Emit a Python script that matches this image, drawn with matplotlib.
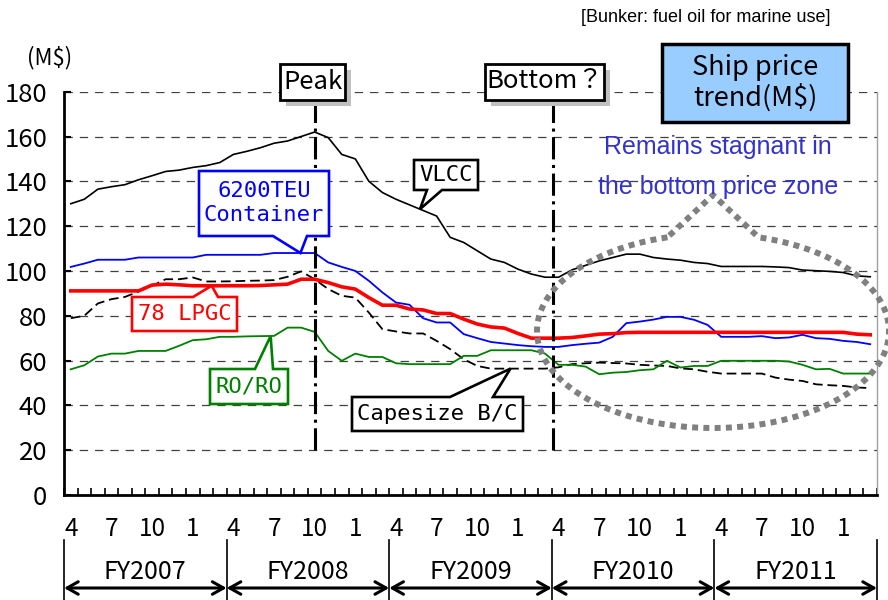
import numpy as np
import matplotlib
matplotlib.use("Agg")
import matplotlib.pyplot as plt
from matplotlib.patches import Polygon, Rectangle
from matplotlib.lines import Line2D
from matplotlib.transforms import blended_transform_factory

plt.rcParams['lines.scale_dashes'] = False

NARROW = ['Liberation Sans Narrow', 'Noto Sans CJK JP', 'DejaVu Sans']
SANS = ['Liberation Sans', 'DejaVu Sans']
MONO = ['DejaVu Sans Mono']

# ---------------- data (monthly, Apr 2007 .. Mar 2012) ----------------
vlcc = [130, 132, 136.5, 137.6, 138.5, 140.7, 142.5, 144.4, 145, 146.2, 147, 148.4,
        152, 153.4, 155, 157, 158, 160, 162, 159.5, 152, 150, 140, 135,
        132, 129.5, 127, 124.5, 115, 112.7, 109, 105.3, 103.8, 100.8, 98.6, 97.2,
        97.2, 100.5, 102.5, 104.5, 106, 107.5, 107.5, 106, 105.3, 104.8, 103.8, 103.3,
        102, 102, 102, 102, 101.8, 101.5, 100.4, 100.1, 99.8, 99.3, 97.8, 97.4]
container = [101.8, 103.3, 105, 105, 105, 106, 106, 106, 106, 106, 107.2, 107.2,
             107.2, 107.2, 107.2, 108, 108, 108, 108, 103.8, 101.8, 100, 95.6, 90.4,
             85.9, 84.9, 78.9, 77, 77, 71.8, 70, 68.3, 67.6, 66.9, 66.4, 66.1,
             66.1, 66.9, 67.5, 68, 70.6, 76.7, 77.4, 78.3, 79.5, 79.5, 78.2, 75.9,
             70.6, 70.6, 70.6, 70.9, 70, 70.3, 71.5, 70, 69.7, 68.8, 68.3, 67.3]
lpgc = [91.1, 91.1, 91.1, 91.1, 91.1, 91.1, 93.7, 94.1, 93.8, 93.4, 93.4, 93.4,
        93.4, 93.4, 93.5, 93.8, 94.1, 96.3, 96.3, 94.8, 92.9, 91.9, 88.1, 84.7,
        84.7, 83, 82.6, 81, 81, 78.5, 76.3, 75, 74.5, 72.1, 70, 70,
        70, 70.3, 71, 71.8, 72, 72.5, 72.6, 72.6, 72.6, 72.6, 72.6, 72.6,
        72.6, 72.6, 72.6, 72.6, 72.6, 72.6, 72.6, 72.6, 72.6, 72.6, 71.8, 71.5]
capesize = [78.9, 80, 85.5, 87.4, 88.4, 90.8, 93.4, 96.3, 96.3, 97.1, 95.3, 95.3,
            95.4, 95.6, 95.7, 95.9, 97.4, 99.8, 96.3, 91.9, 88.9, 88.1, 81.4, 74,
            73, 72.1, 72.1, 68.8, 65.1, 60.6, 57.6, 56.4, 56.4, 56.4, 56.4, 56.4,
            57, 58.4, 58.8, 59.1, 58.9, 58.7, 58.1, 57.8, 57.6, 56.5, 56.1, 55,
            54.2, 54.2, 54.2, 54.2, 52.4, 51.5, 50.9, 49.4, 49, 48.7, 48, 47.7]
roro = [56.1, 57.9, 61.8, 63.1, 63.1, 64.3, 64.3, 64.3, 66.6, 69.1, 69.5, 70.6,
        70.6, 70.8, 70.9, 71, 74.7, 74.7, 72.8, 64.3, 59.9, 63.1, 61.6, 61.6,
        58.8, 58.4, 58.4, 58.4, 58.4, 62.1, 62.1, 64.6, 64.6, 64.6, 64.6, 63.1,
        58.1, 58.1, 57.3, 53.9, 54.6, 54.9, 55.7, 56.1, 59.9, 56.9, 57.6, 57.6,
        59.9, 59.9, 59.9, 59.9, 59.9, 59.6, 58.1, 56.1, 56.3, 54.2, 54.2, 54.2]

month_labels = ['4', '7', '10', '1']
fiscal_years = ['FY2007', 'FY2008', 'FY2009', 'FY2010', 'FY2011']
yticks = [0, 20, 40, 60, 80, 100, 120, 140, 160, 180]
peak_idx = 18
bottom_idx = 35.6

# ---------------- figure ----------------
W, H = 888, 600
fig = plt.figure(figsize=(W / 100, H / 100), dpi=100)
fig.patch.set_facecolor('white')
ax = fig.add_axes([64 / W, 1 - 495 / H, (877 - 64) / W, (495 - 91.7) / H])

n = len(vlcc)
xs = np.arange(n)

ax.plot(xs, vlcc, color='black', lw=1.2, zorder=3)
ax.plot(xs, container, color='#0000FF', lw=1.3, zorder=3)
ax.plot(xs, capesize, color='black', lw=1.3, dashes=(7, 3.5), zorder=3)
ax.plot(xs, roro, color='#008000', lw=1.3, zorder=3)
ax.plot(xs, lpgc, color='#FF0000', lw=2.6, zorder=4)

ax.set_xlim(-0.5, n - 0.5)
ax.set_ylim(0, 180)

# y axis
ax.set_yticks(yticks)
ax.set_yticklabels([str(v) for v in yticks], family=NARROW, fontsize=18.5)
ax.tick_params(axis='y', direction='in', length=5, width=1.5, pad=12)
for v in yticks[1:]:
    ax.axhline(v, color='#404040', lw=0.9, dashes=(6, 5), zorder=1)

# x axis
major = [i for i in range(n) if i % 3 == 0]
ax.set_xticks(major)
ax.set_xticklabels([month_labels[(i // 3) % 4] for i in major], family=NARROW, fontsize=17.5)
ax.set_xticks(np.arange(-0.5, n, 1), minor=True)
ax.tick_params(axis='x', which='major', length=0, pad=15)
ax.tick_params(axis='x', which='minor', direction='in', length=5, width=1.2)

for s in ['left', 'bottom']:
    ax.spines[s].set_linewidth(2)
    ax.spines[s].set_color('black')
ax.spines['top'].set_visible(False)
ax.spines['right'].set_color('#A0A0A0')
ax.spines['right'].set_linewidth(1)

# peak / bottom lines
for xv in (peak_idx, bottom_idx):
    ax.plot([xv, xv], [20, 176], color='black', lw=2.2, dashes=(16, 4, 2.2, 4),
            zorder=5, solid_capstyle='butt', dash_capstyle='butt')

# ---------------- helpers ----------------
def ff(px, py):
    return (px / W, 1 - py / H)


def data_px(idx, series):
    y = np.interp(idx, xs, series)
    d = ax.transData.transform((idx, y))
    return (d[0], H - d[1])


def callout(box, base, tip, edge, color, text, lw=1.9, size=16, ls=1.2):
    x0, y0, x1, y1 = box
    if edge == 'bottom':
        verts = [(x0, y0), (x1, y0), (x1, y1), (base[1], y1), tip, (base[0], y1), (x0, y1)]
    else:
        verts = [(x0, y0), (base[0], y0), tip, (base[1], y0), (x1, y0), (x1, y1), (x0, y1)]
    poly = Polygon([ff(*v) for v in verts], closed=True, facecolor='white', edgecolor=color,
                   lw=lw, transform=fig.transFigure, joinstyle='miter', zorder=6)
    fig.add_artist(poly)
    fig.text((x0 + x1) / 2 / W, 1 - (y0 + y1) / 2 / H, text, ha='center', va='center',
             color=color, family=MONO, fontsize=size, linespacing=ls, zorder=7)


def box(x0, y0, x1, y1, text, face='white', lw=2, size=18, shadow=True):
    if shadow:
        fig.add_artist(Rectangle(ff(x0 + 6, y1 + 6), (x1 - x0) / W, (y1 - y0) / H,
                                 transform=fig.transFigure, facecolor='#C0C0C0',
                                 edgecolor='none', zorder=5))
    fig.add_artist(Rectangle(ff(x0, y1), (x1 - x0) / W, (y1 - y0) / H,
                             transform=fig.transFigure, facecolor=face,
                             edgecolor='black', lw=lw, zorder=6))
    fig.text((x0 + x1) / 2 / W, 1 - (y0 + y1) / 2 / H, text, ha='center', va='center',
             family=NARROW, fontsize=size, linespacing=1.1, zorder=7)


# ---------------- callouts ----------------
callout((199, 171, 329, 236), (273, 307), data_px(16.95, container), 'bottom',
        '#0000FF', '6200TEU\nContainer', ls=1.25)
callout((414, 160, 478, 190), (427, 442), data_px(25.77, vlcc), 'bottom',
        'black', 'VLCC')
callout((132, 297, 237, 331), (193, 218), data_px(10.4, lpgc), 'top',
        '#FF0000', '78 LPGC')
callout((210, 369, 288, 404), (255, 273), data_px(14.75, roro), 'top',
        '#008000', 'RO/RO')
callout((352, 397, 523, 431), (450, 493), data_px(32.45, capesize), 'top',
        'black', 'Capesize B/C')

box(280, 64, 345, 100, 'Peak', size=18.5)
box(485, 64, 604, 100, 'Bottom？', size=18.5)
box(662, 44, 848, 122, 'Ship price\ntrend(M$)', face='#99CCFF', lw=2.5, size=19.5, shadow=False)

# dotted "bubble"
cx, cy, a, b = 713, 331, 176, 97
delta = np.deg2rad(15)
t = np.linspace(np.pi / 2 + delta, np.pi / 2 - delta + 2 * np.pi, 300)
px = cx + a * np.cos(t)
py = cy - b * np.sin(t)
px = np.concatenate([px, [713], [px[0]]])
py = np.concatenate([py, [195], [py[0]]])
fig.add_artist(Line2D(px / W, 1 - py / H, transform=fig.transFigure, color='#808080',
                      lw=4.3, dashes=(4.3, 3.8), dash_capstyle='butt', zorder=8))

# text annotations
fig.text(718 / W, 1 - 147 / H, 'Remains stagnant in', ha='center', va='center',
         color='#3333CC', family=SANS, fontsize=18, zorder=9)
fig.text(718 / W, 1 - 187 / H, 'the bottom price zone', ha='center', va='center',
         color='#3333CC', family=SANS, fontsize=18, zorder=9)
fig.text(830 / W, 1 - 18 / H, '[Bunker: fuel oil for marine use]', ha='right', va='center',
         family=SANS, fontsize=13)
fig.text(50 / W, 1 - 58 / H, '(M$)', ha='center', va='center', family=NARROW, fontsize=16)

# fiscal year brackets
trans = blended_transform_factory(ax.transData, fig.transFigure)
bounds = [-0.5 + 12 * k for k in range(len(fiscal_years) + 1)]
for bx in bounds:
    fig.add_artist(Line2D([bx, bx], [1 - 540 / H, 0], transform=trans, color='black', lw=1.2))
for k, fy in enumerate(fiscal_years):
    x0, x1 = bounds[k], bounds[k + 1]
    ax.annotate('', xy=(x1, 1 - 588 / H), xytext=(x0, 1 - 588 / H), xycoords=trans,
                textcoords=trans, annotation_clip=False,
                arrowprops=dict(arrowstyle='<->,head_length=0.8,head_width=0.45', lw=2.2,
                                color='black', shrinkA=0, shrinkB=0))
    ax.text((x0 + x1) / 2, 1 - 572 / H, fy, transform=trans, ha='center', va='center',
            family=NARROW, fontsize=18)

fig.savefig('out.png', dpi=100)
